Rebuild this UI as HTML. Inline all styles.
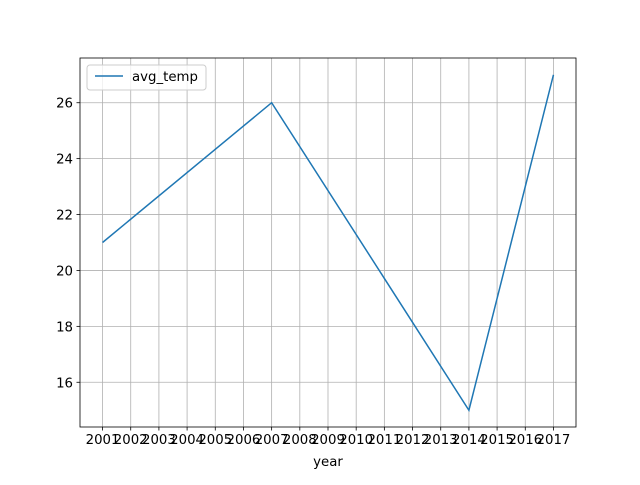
<!DOCTYPE html>
<html><head><meta charset="utf-8"><style>
body{margin:0;background:#fff}
svg text{font-family:"DejaVu Sans","Liberation Sans",sans-serif;font-size:13.3px;fill:#000}
</style></head><body>
<svg id="chart" width="640" height="480">
<rect x="0" y="0" width="640" height="480" fill="#fff"/>
<g id="grid"></g>
<g id="xticks"></g>
<g id="yticks"></g>
<path id="line" fill="none" stroke="#1f77b4" stroke-width="1.5"/>
<rect x="80" y="58" width="496" height="369" fill="none" stroke="#000" stroke-width="0.8"/>
<text x="328" y="466" text-anchor="middle">year</text>
<g>
<rect x="87" y="65" width="119" height="25" rx="3" fill="#fff" fill-opacity="0.8" stroke="#ccc"/>
<line x1="95" y1="76" x2="123" y2="76" stroke="#1f77b4" stroke-width="1.5"/>
<text x="132" y="81">avg_temp</text>
</g>
</svg>
<script>
const years=[2001,2007,2014,2017];
const temps=[21,26,15,27];
const xTicks=[2001,2002,2003,2004,2005,2006,2007,2008,2009,2010,2011,2012,2013,2014,2015,2016,2017];
const yTicks=[16,18,20,22,24,26];
const X0=80,X1=576,Y0=427,Y1=58;
const xmin=2000.2,xmax=2017.8,ymin=14.4,ymax=27.6;
const sx=v=>X0+(v-xmin)/(xmax-xmin)*(X1-X0);
const sy=v=>Y0-(v-ymin)/(ymax-ymin)*(Y0-Y1);
const NS="http://www.w3.org/2000/svg";
const grid=document.getElementById('grid'),gx=document.getElementById('xticks'),gy=document.getElementById('yticks');
function mk(t,a,p){const e=document.createElementNS(NS,t);for(const k in a)e.setAttribute(k,a[k]);p.appendChild(e);return e;}
xTicks.forEach(v=>{const x=sx(v);
const g=mk('line',{x1:x,x2:x,y1:Y1,y2:Y0,stroke:'#b0b0b0','stroke-width':0.8},grid);


const t=mk('line',{x1:x,x2:x,y1:Y0,y2:Y0+3.5,stroke:'#000','stroke-width':0.8},gx);


const l=mk('text',{x:x,y:Y0+17,'text-anchor':'middle'},gx);l.textContent=v;


});
yTicks.forEach(v=>{const y=sy(v);
const g=mk('line',{x1:X0,x2:X1,y1:y,y2:y,stroke:'#b0b0b0','stroke-width':0.8},grid);


const t=mk('line',{x1:X0-3.5,x2:X0,y1:y,y2:y,stroke:'#000','stroke-width':0.8},gy);


const l=mk('text',{x:X0-7,y:y+5,'text-anchor':'end'},gy);l.textContent=v;


});
document.getElementById('line').setAttribute('d',years.map((y,i)=>(i?'L':'M')+sx(y)+','+sy(temps[i])).join(''));
</script>
</body></html>
